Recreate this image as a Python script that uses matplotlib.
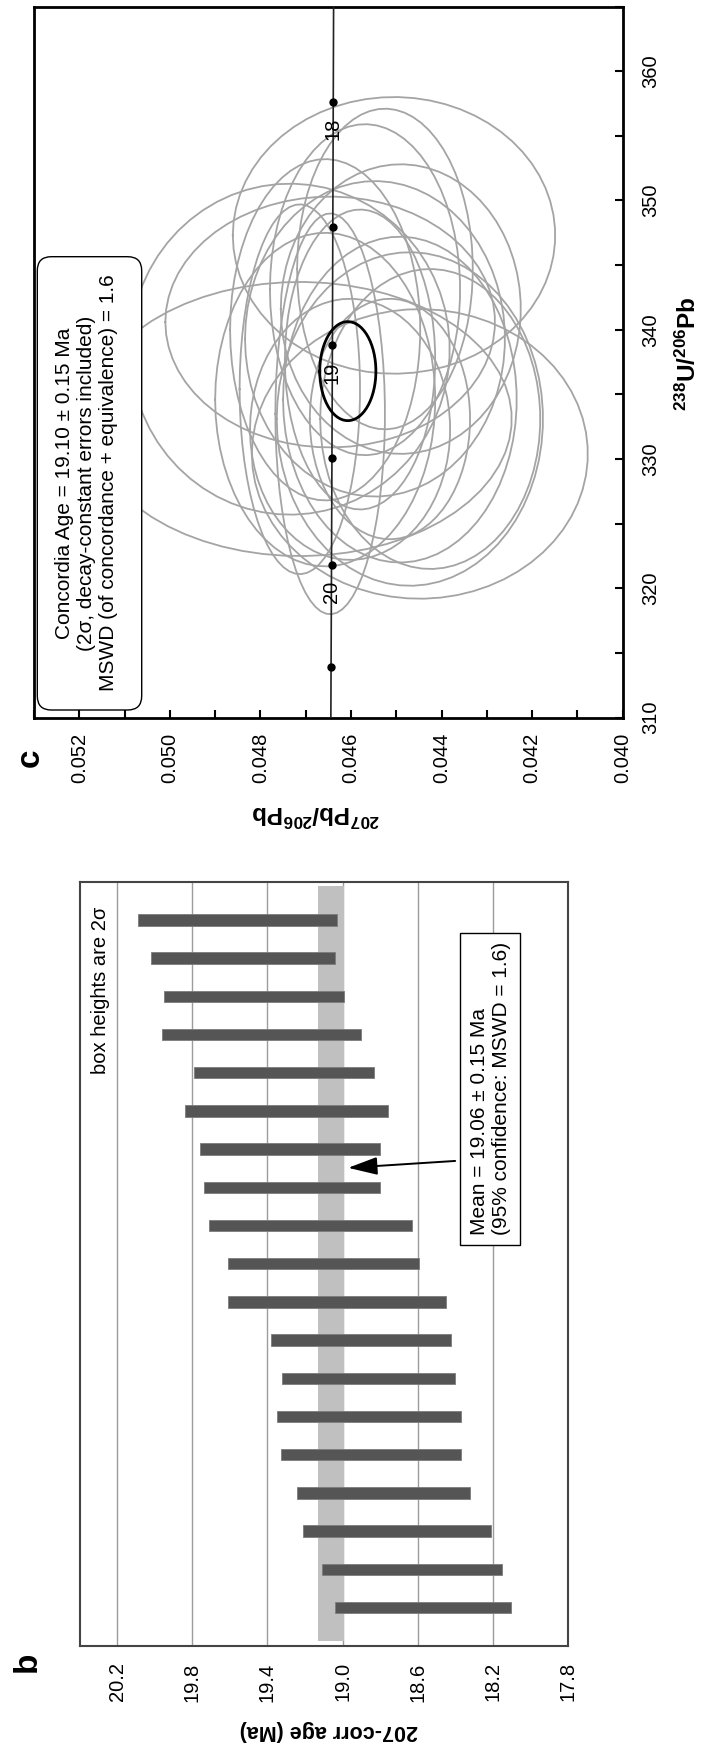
import numpy as np
import matplotlib
matplotlib.use("Agg")
import matplotlib.pyplot as plt
from matplotlib.patches import FancyBboxPatch
from matplotlib.transforms import IdentityTransform
from matplotlib.ticker import MultipleLocator, FormatStrFormatter

plt.rcParams['font.family'] = ['Liberation Sans', 'DejaVu Sans']
plt.rcParams['mathtext.fontset'] = 'custom'
plt.rcParams['mathtext.rm'] = 'Liberation Sans'
plt.rcParams['mathtext.bf'] = 'Liberation Sans:bold'

W, H, DPI = 706, 1745, 100
FS = 14.5

# --- panel b: 207Pb-corrected spot ages (Ma, 2 sigma), youngest first
spot_no = np.arange(1, 20)
age_207corr = [18.57, 18.63, 18.71, 18.78, 18.85, 18.86, 18.86, 18.90, 19.03, 19.10,
               19.17, 19.27, 19.28, 19.30, 19.31, 19.43, 19.47, 19.53, 19.56]
age_2s = [0.47, 0.48, 0.50, 0.46, 0.48, 0.49, 0.46, 0.48, 0.58, 0.51,
          0.54, 0.47, 0.48, 0.54, 0.48, 0.53, 0.48, 0.49, 0.53]
mean_age = 19.06
mean_2s = 0.15
mean_band = 0.07
mean_mswd = 1.6
age_ticks = [20.2, 19.8, 19.4, 19.0, 18.6, 18.2, 17.8]

# --- panel c: Tera-Wasserburg data (2 sigma error ellipses)
u238_pb206 = [347.3, 330.4, 344.7, 343.1, 340.0, 341.6, 338.5, 339.3, 334.6, 333.1,
              333.1, 340.6, 333.5, 333.1, 334.6, 333.1, 335.4, 332.3, 337.7]
u238_pb206_2s = [10.7, 11.2, 12.4, 12.8, 13.2, 11.2, 12.8, 12.2, 12.9, 11.6,
                 10.6, 9.7, 15.5, 12.9, 12.6, 9.3, 14.3, 10.1, 11.6]
pb207_pb206 = [0.04505, 0.04448, 0.04525, 0.04569, 0.04657, 0.04490, 0.04735, 0.04547,
               0.04657, 0.04425, 0.04713, 0.04646, 0.04646, 0.04470, 0.04492, 0.04514,
               0.04713, 0.04602, 0.04580]
pb207_pb206_2s = [0.00356, 0.00371, 0.00194, 0.00210, 0.00210, 0.00265, 0.00353, 0.00287,
                  0.00243, 0.00243, 0.00468, 0.00364, 0.00121, 0.00294, 0.00258, 0.00177,
                  0.00133, 0.00221, 0.00166]

conc_age = 19.10
conc_age_2s = 0.15
conc_mswd = 1.6
conc_u = 336.8
conc_u_2s = 3.83
conc_pb = 0.04607
conc_pb_2s = 0.00062

marker_ages = [18.0, 18.5, 19.0, 19.5, 20.0, 20.5]
labelled_ages = [18, 19, 20]
u_ticks = [310, 320, 330, 340, 350, 360]
pb_ticks = [0.052, 0.050, 0.048, 0.046, 0.044, 0.042, 0.040]

L238 = 1.55125e-10
L235 = 9.8485e-10
U_RATIO = 137.88


def tw_concordia(age_ma):
    t = np.asarray(age_ma, dtype=float) * 1e6
    r206 = np.expm1(L238 * t)
    r207 = np.expm1(L235 * t)
    return 1.0 / r206, r207 / r206 / U_RATIO


def ellipse(u0, su, v0, sv, n=64):
    t = np.linspace(0, 2 * np.pi, n)
    return v0 + sv * np.cos(t), u0 + su * np.sin(t)


def px_rect(left, top, right, bottom):
    # pixel box (top-left origin) -> figure fraction
    return [left / W, 1 - bottom / H, (right - left) / W, (bottom - top) / H]


fig = plt.figure(figsize=(W / DPI, H / DPI), dpi=DPI)

# ================= panel c (concordia) =================
axc = fig.add_axes(px_rect(34, 6.5, 622.7, 717.7))
axc.set_xlim(0.053, 0.040)
axc.set_ylim(310, 365)

for u0, su, v0, sv in zip(u238_pb206, u238_pb206_2s, pb207_pb206, pb207_pb206_2s):
    ex, ey = ellipse(u0, su, v0, sv)
    axc.plot(ex, ey, color='#a4a4a4', lw=1.3, zorder=2)

curve_u, curve_v = tw_concordia(np.linspace(17.0, 21.5, 200))
axc.plot(curve_v, curve_u, color='#222222', lw=1.2, zorder=3)

mu, mv = tw_concordia(marker_ages)
axc.plot(mv, mu, 'o', ms=5, color='black', zorder=4)
for a in labelled_ages:
    au, av = tw_concordia(a)
    axc.annotate(f'{a:d}', xy=(av, au), xytext=(0, -27), textcoords='offset pixels',
                 rotation=90, ha='center', va='center', fontsize=FS, zorder=5)

ex, ey = ellipse(conc_u, conc_u_2s, conc_pb, conc_pb_2s)
axc.plot(ex, ey, color='black', lw=2.0, zorder=4)

conc_box = FancyBboxPatch((37.3, H - 710), 104.4, 453.3,
                          boxstyle='round,pad=0,rounding_size=14',
                          transform=IdentityTransform(), fc='white', ec='black', lw=1.0,
                          zorder=6)
axc.add_patch(conc_box)
conc_text = (f'Concordia Age = {conc_age:.2f} \u00b1 {conc_age_2s:.2f} Ma\n'
             '(2\u03c3, decay-constant errors included)\n'
             f'MSWD (of concordance + equivalence) = {conc_mswd:.1f}')
fig.text(87 / W, 1 - 483 / H, conc_text, rotation=90, ha='center', va='center',
         multialignment='center', fontsize=15, zorder=7)

axc.xaxis.set_major_locator(plt.FixedLocator(pb_ticks))
axc.xaxis.set_minor_locator(MultipleLocator(0.001))
axc.xaxis.set_major_formatter(FormatStrFormatter('%.3f'))
axc.yaxis.set_major_locator(plt.FixedLocator(u_ticks))
axc.yaxis.set_minor_locator(MultipleLocator(5))
axc.yaxis.set_major_formatter(FormatStrFormatter('%d'))
axc.xaxis.set_ticks_position('bottom')
axc.yaxis.set_ticks_position('right')
axc.tick_params(which='both', direction='in', length=6, width=1.5, labelsize=FS)
axc.tick_params(axis='x', which='both', labelrotation=90, pad=11)
axc.tick_params(axis='y', which='both', labelrotation=90, pad=13.5)
for lbl in axc.get_yticklabels():
    lbl.set_va('center')
for sp in axc.spines.values():
    sp.set_linewidth(2.0)

fig.text(316 / W, 1 - 813 / H, r'$\mathbf{{}^{207}Pb/{}^{206}Pb}$', rotation=180,
         ha='center', va='center', fontsize=17.5)
fig.text(688 / W, 1 - 354 / H, r'$\mathbf{{}^{238}U/{}^{206}Pb}$', rotation=90,
         ha='center', va='center', fontsize=17.5)
fig.text(30 / W, 1 - 758 / H, 'c', rotation=90, ha='center', va='center',
         fontsize=24, fontweight='bold')

# ================= panel b (weighted mean) =================
axb = fig.add_axes(px_rect(79.7, 881.7, 567.8, 1645.7))
axb.set_xlim(20.4, 17.8)
axb.set_ylim(0, 20)

axb.fill_betweenx([0.12, 19.88], mean_age - mean_band, mean_age + mean_band,
                  color='#c0c0c0', lw=0, zorder=2)
lo = np.array(age_207corr) - np.array(age_2s)
axb.barh(spot_no, 2 * np.array(age_2s), left=lo, height=0.3, color='#555555',
         edgecolor='#7c7c7c', lw=0.6, zorder=3)

axb.set_xticks(age_ticks)
axb.xaxis.set_major_formatter(FormatStrFormatter('%.1f'))
axb.set_yticks([])
axb.xaxis.grid(True, color='#9c9c9c', lw=1.0, zorder=1)
axb.set_axisbelow(True)
axb.tick_params(axis='x', length=0, labelsize=FS, labelrotation=90, pad=12)
for sp in axb.spines.values():
    sp.set_linewidth(1.5)
    sp.set_color('#444444')

axb.text(0.042, 0.967, 'box heights are 2\u03c3', transform=axb.transAxes, rotation=90,
         ha='center', va='top', fontsize=FS)

mean_text = (f'Mean = {mean_age:.2f} \u00b1 {mean_2s:.2f} Ma\n'
             f'(95% confidence: MSWD = {mean_mswd:.1f})')
axb.text(18.214, 14.58, mean_text, rotation=90, ha='center', va='center',
         multialignment='left', fontsize=15, zorder=6,
         bbox=dict(boxstyle='square,pad=0.45', fc='white', ec='black', lw=1.0))
axb.annotate('', xy=(18.97, 12.51), xytext=(18.40, 12.69),
             arrowprops=dict(arrowstyle='-|>,head_length=1.8,head_width=0.55',
                             mutation_scale=10, lw=1.4, color='black',
                             shrinkA=0, shrinkB=0), zorder=6)

fig.text(329 / W, 1 - 1730 / H, '207-corr age (Ma)', rotation=180, ha='center',
         va='center', fontsize=15.5, fontweight='bold')
fig.text(27 / W, 1 - 1662 / H, 'b', rotation=90, ha='center', va='center',
         fontsize=24, fontweight='bold')

fig.savefig('out.png', dpi=DPI)
